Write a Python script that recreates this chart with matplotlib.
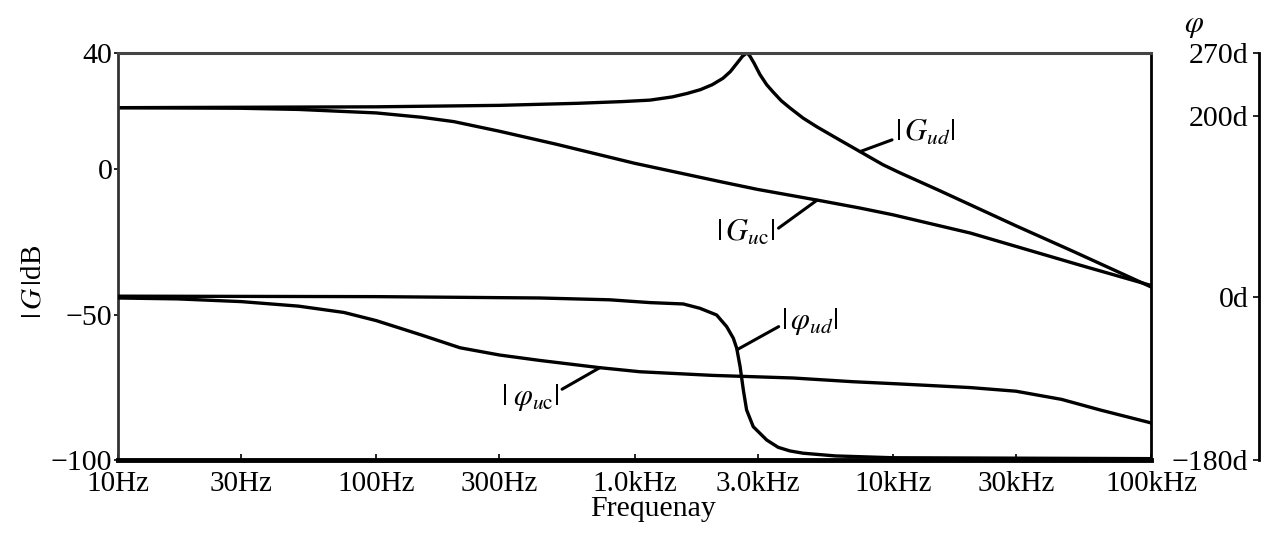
import matplotlib
matplotlib.use("Agg")
import matplotlib.pyplot as plt

plt.rcParams['font.family'] = ['Liberation Serif', 'DejaVu Serif']
plt.rcParams['mathtext.fontset'] = 'stix'

# frequency ticks
freq_ticks = [10, 30, 100, 300, 1000, 3000, 10000, 30000, 100000]
freq_labels = ['10Hz', '30Hz', '100Hz', '300Hz', '1.0kHz', '3.0kHz', '10kHz', '30kHz', '100kHz']
db_ticks = [40, 0, -50, -100]
phase_ticks = [270, 200, 0, -180]
phase_labels = ['270d', '200d', '0d', '\u2212180d']

# |Gud| magnitude, dB
f_gud = [10, 100, 300, 600, 900, 1148, 1400, 1600, 1800, 2000, 2200, 2350, 2500, 2620,
         2730, 2800, 2900, 3060, 3250, 3440, 3700, 4000, 4500, 5090, 6090, 7470, 9160,
         10670, 15000, 20000, 30000, 50000, 100000]
g_ud = [21.1, 21.4, 21.9, 22.6, 23.2, 23.7, 24.8, 26.0, 27.3, 29.0, 31.2, 33.5, 36.5, 38.8,
        40.0, 38.8, 36.5, 32.5, 29.0, 26.5, 23.5, 21.0, 17.5, 14.5, 10.5, 6.0, 1.5,
        -1.3, -7.2, -12.3, -19.5, -28.3, -40.5]

# |Guc| magnitude, dB
f_guc = [10, 30, 50, 100, 150, 200, 300, 500, 1000, 2143, 3000, 5200, 7470, 10000, 20000,
         53000, 100000]
g_uc = [21.1, 20.9, 20.5, 19.3, 17.8, 16.3, 13.0, 8.5, 2.0, -4.3, -7.0, -10.8, -13.4, -15.7,
        -22.0, -33.0, -40.0]

# phase of ud, degrees
f_pud = [10, 100, 430, 800, 1148, 1545, 1793, 2080, 2275, 2414, 2488, 2564, 2639, 2717,
         2883, 3250, 3600, 4000, 4500, 6000, 10000, 100000]
p_ud = [1, 0.5, -1, -3, -6.1, -7.6, -12.4, -19.8, -32.7, -45.5, -56.6, -76.9, -102.6, -124.7,
        -143.2, -157.9, -166, -170, -172.5, -175.5, -177.5, -178.5]

# phase of uc, degrees
f_puc = [10, 17, 30, 50, 75, 100, 150, 211, 300, 430, 734, 1050, 2000, 4110, 7010, 10670,
         20000, 30000, 45000, 63500, 100000]
p_uc = [-1, -2, -5, -10, -17, -26, -42, -56, -64, -70, -78, -82.5, -86.5, -89.4, -93.5, -96,
        -100, -104, -113, -124.7, -139]

fig = plt.figure(figsize=(12.75, 5.4), dpi=100)
ax = fig.add_axes([118 / 1275, 80 / 540, 1033 / 1275, 407.3 / 540])

ax.plot(f_gud, g_ud, color='black', lw=2.4)
ax.plot(f_guc, g_uc, color='black', lw=2.4)

ax.set_xscale('log')
ax.set_xlim(10, 100000)
ax.set_ylim(-100, 40)
ax.set_xticks(freq_ticks, freq_labels)
ax.minorticks_off()
ax.set_yticks(db_ticks, [str(t).replace('-', '\u2212') for t in db_ticks])
ax.tick_params(axis='x', direction='in', length=4, width=1.2, pad=8, labelsize=21)
ax.tick_params(axis='y', direction='out', length=3, width=1.2, pad=1, labelsize=21.5)

ax.spines['top'].set_color('#444444')
ax.spines['top'].set_linewidth(2.2)
ax.spines['left'].set_color('#333333')
ax.spines['left'].set_linewidth(2.0)
ax.spines['bottom'].set_color('black')
ax.spines['bottom'].set_linewidth(3.5)
ax.spines['right'].set_color('black')
ax.spines['right'].set_linewidth(2.0)

ax.set_xlabel('Frequenay', fontsize=21.5)
ax.xaxis.set_label_coords(0.518, -0.088)
ax.set_ylabel(r'$|\,G\,|$dB', fontsize=21)
ax.yaxis.set_label_coords(-0.069, 0.437)

# phase scale on a separate spine further right
ax2 = ax.twinx()
ax2.plot(f_pud, p_ud, color='black', lw=2.4)
ax2.plot(f_puc, p_uc, color='black', lw=2.4)
ax2.set_ylim(-180, 270)
ax2.set_yticks(phase_ticks, phase_labels)
for s in ['top', 'left', 'bottom']:
    ax2.spines[s].set_visible(False)
ax2.spines['right'].set_position(('outward', 78))
ax2.spines['right'].set_linewidth(2.0)
ax2.tick_params(axis='y', direction='in', length=4, width=1.2, pad=-8, labelsize=21.5)
for lab in ax2.get_yticklabels():
    lab.set_horizontalalignment('right')
fig.text(1194 / 1275, 1 - 25 / 540, r'$\varphi$', fontsize=22, ha='center', va='center')

# curve labels with leader lines
arrow = dict(arrowstyle='-', lw=2.2, color='black', shrinkA=0, shrinkB=0)
ax.annotate(r'$|\,G_{ud}|$', xy=(7470, 6.0), xytext=(13340, 12.4), fontsize=22,
            ha='center', va='center', arrowprops=dict(arrow, relpos=(0, 0.3)))
ax.annotate(r'$|\,G_{u\mathrm{c}}|$', xy=(5090, -10.7), xytext=(2704, -22.0), fontsize=22,
            ha='center', va='center', arrowprops=dict(arrow, relpos=(1, 0.6)))
ax2.annotate(r'$|\,\varphi_{ud}|$', xy=(2500, -58), xytext=(4790, -27.5), fontsize=22,
             ha='center', va='center', arrowprops=dict(arrow, relpos=(0, 0.4)))
ax2.annotate(r'$|\;\varphi_{u\mathrm{c}}|$', xy=(734, -78), xytext=(393.6, -110.4), fontsize=22,
             ha='center', va='center', arrowprops=dict(arrow, relpos=(1, 0.7)))

fig.savefig('out.png', dpi=100)
